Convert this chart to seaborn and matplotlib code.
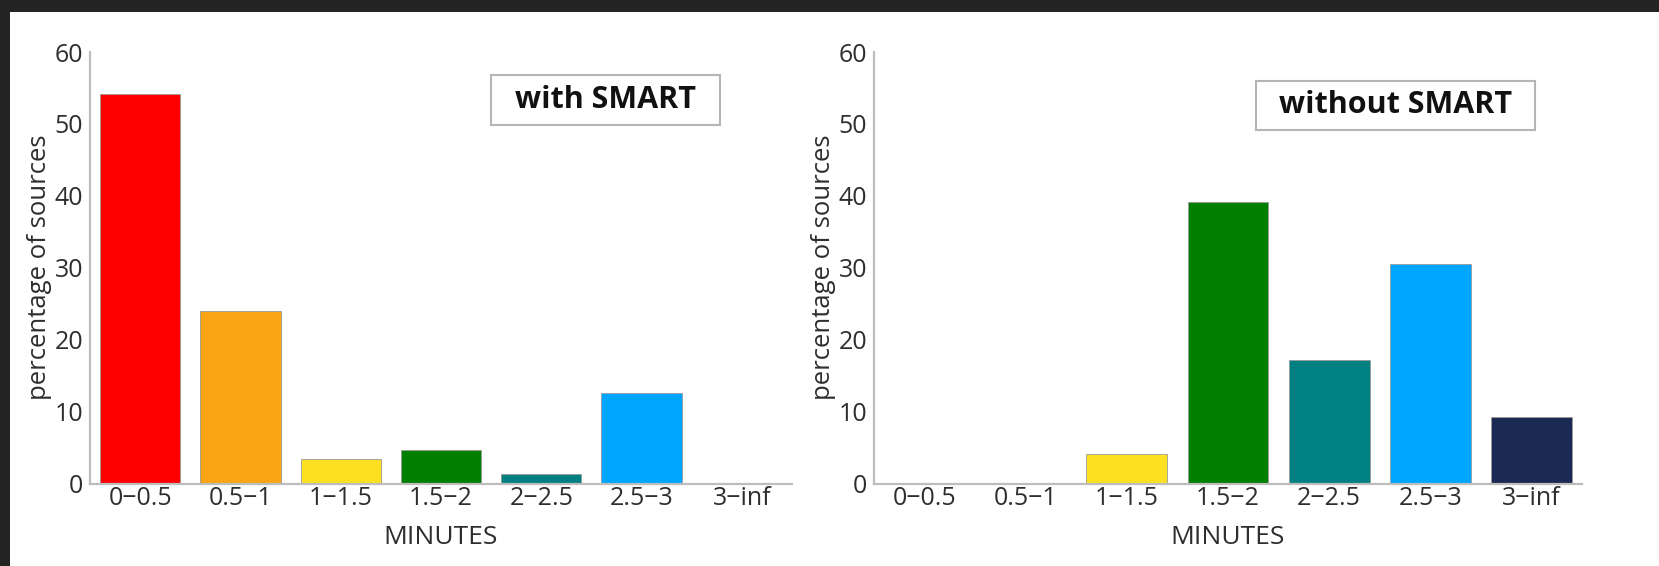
import matplotlib
matplotlib.use("Agg")
import matplotlib.pyplot as plt
import seaborn as sns
import pandas as pd
from matplotlib.patches import Rectangle

categories = ["0\u22120.5", "0.5\u22121", "1\u22121.5", "1.5\u22122", "2\u22122.5", "2.5\u22123", "3\u2212inf"]
with_smart = [54.2, 24.0, 3.4, 4.6, 1.3, 12.6, 0.0]
without_smart = [0.0, 0.0, 4.1, 39.1, 17.2, 30.5, 9.3]
bar_colors = ["#FF0000", "#FBA414", "#FDE020", "#007F00", "#008080", "#00A6FF", "#1B2A52"]
yticks = [0, 10, 20, 30, 40, 50, 60]
titles = ["with SMART", "without SMART"]

sns.set_theme(style="white")
plt.rcParams["font.family"] = ["Open Sans", "DejaVu Sans"]

W, H = 1659, 566
fig = plt.figure(figsize=(W / 100, H / 100), dpi=100)
fig.patch.set_facecolor("white")
fig.patches.append(Rectangle((0, 1 - 12 / H), 1, 12 / H, transform=fig.transFigure,
                             facecolor="#242424", edgecolor="none", zorder=0))
fig.patches.append(Rectangle((0, 0), 10 / W, 1, transform=fig.transFigure,
                             facecolor="#242424", edgecolor="none", zorder=0))

ax_specs = [
    (90, 792, 0.734, 0.889, 229, 50),
    (874, 1582, 0.737, 0.877, 279, 49),
]
bottom_px, top_px = 483.5, 52
text_col = "#2e2e2e"
spine_col = "#BDBDBD"

for i, (vals, title) in enumerate(zip([with_smart, without_smart], titles)):
    x0, x1, bx, by, bw, bh = ax_specs[i]
    ax = fig.add_axes([x0 / W, 1 - bottom_px / H, (x1 - x0) / W, (bottom_px - top_px) / H])
    df = pd.DataFrame({"cat": categories, "val": vals})
    sns.barplot(data=df, x="cat", y="val", hue="cat", palette=bar_colors, legend=False,
                width=0.8, saturation=1, edgecolor="#9a9a9a", linewidth=0.6, ax=ax,
                order=categories)
    ax.set_xlim(-0.5, 6.5)
    ax.set_ylim(0, 60)
    ax.set_yticks(yticks)
    ax.set_yticklabels([str(t) for t in yticks])
    for s in ["top", "right"]:
        ax.spines[s].set_visible(False)
    for s in ["left", "bottom"]:
        ax.spines[s].set_color(spine_col)
        ax.spines[s].set_linewidth(1.6)
    ax.tick_params(axis="both", direction="in", length=4, width=1, color=spine_col,
                   labelsize=18, labelcolor=text_col, pad=5)
    ax.tick_params(axis="x", pad=2)
    ax.set_xlabel("MINUTES", fontsize=19, color=text_col, labelpad=10)
    ax.set_ylabel("percentage of sources", fontsize=18.5, color=text_col, labelpad=2)
    ax.set_facecolor("white")
    axw = (x1 - x0)
    axh = (bottom_px - top_px)
    rw, rh = bw / axw, bh / axh
    ax.add_patch(Rectangle((bx - rw / 2, by - rh / 2), rw, rh, transform=ax.transAxes,
                           facecolor="white", edgecolor="#B5B5B5", linewidth=1.5,
                           clip_on=False, zorder=5))
    ax.text(bx, by, title, transform=ax.transAxes, ha="center", va="center",
            fontsize=22, fontweight="bold", color="#111111", zorder=6)

fig.savefig("out.png", dpi=100)
